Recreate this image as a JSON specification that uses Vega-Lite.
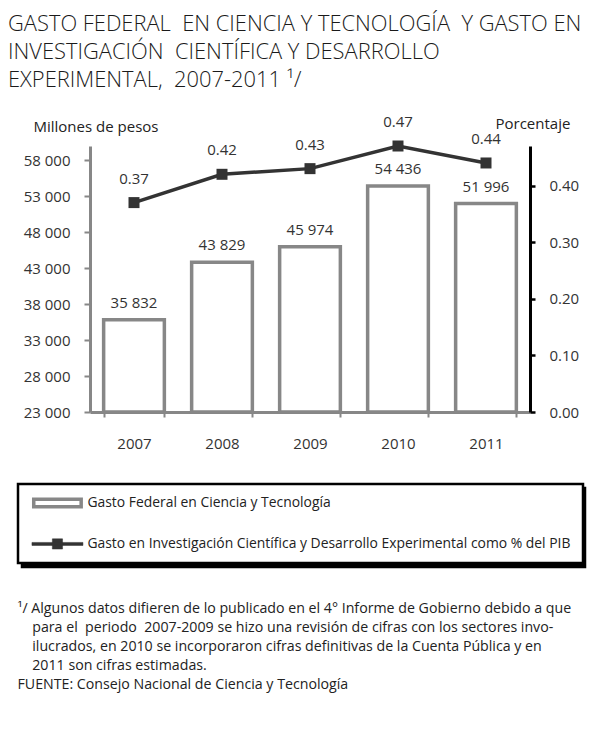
{
  "$schema": "https://vega.github.io/schema/vega-lite/v6.json",
  "width": 440,
  "height": 266,
  "autosize": {"type": "none"},
  "padding": {"left": 90, "top": 146, "right": 83, "bottom": 341},
  "config": {
    "locale": {"number": {"decimal": ".", "thousands": " ", "grouping": [3], "currency": ["$", ""]}},
    "view": {"stroke": null},
    "font": "Open Sans"
  },
  "title": {
    "text": ["GASTO FEDERAL\u00a0 EN CIENCIA Y TECNOLOGÍA\u00a0 Y GASTO EN", "INVESTIGACIÓN\u00a0 CIENTÍFICA Y DESARROLLO", "EXPERIMENTAL,\u00a0 2007-2011 ¹/"],
    "anchor": "start", "frame": "group", "dx": -82, "offset": 23,
    "font": "Open Sans", "fontSize": 21.9, "fontWeight": 300, "color": "#1a1a1a", "lineHeight": 28
  },
  "data": {"values": [
    {"anio": "2007", "gasto": 35832, "pct": 0.37},
    {"anio": "2008", "gasto": 43829, "pct": 0.42},
    {"anio": "2009", "gasto": 45974, "pct": 0.43},
    {"anio": "2010", "gasto": 54436, "pct": 0.47},
    {"anio": "2011", "gasto": 51996, "pct": 0.44}
  ]},
  "encoding": {
    "x": {
      "field": "anio", "type": "ordinal",
      "scale": {"paddingInner": 0.31, "paddingOuter": 0.155},
      "axis": {
        "title": ["¹/ Algunos datos difieren de lo publicado en el 4° Informe de Gobierno debido a que", "\u200b\u00a0\u00a0\u00a0\u00a0para el\u00a0 periodo\u00a0 2007-2009 se hizo una revisión de cifras con los sectores invo-", "\u200b\u00a0\u00a0\u00a0\u00a0ilucrados, en 2010 se incorporaron cifras definitivas de la Cuenta Pública y en", "\u200b\u00a0\u00a0\u00a0\u00a02011 son cifras estimadas.", "FUENTE: Consejo Nacional de Ciencia y Tecnología"],
        "titleX": -73, "titleY": 189, "titleAlign": "left", "titleBaseline": "top", "titleAngle": 0,
        "titleFont": "Open Sans", "titleFontSize": 14.2, "titleFontWeight": "normal", "titleColor": "#222", "titleLineHeight": 19,
        "labelAngle": 0, "labelFont": "Open Sans", "labelFontSize": 15, "labelColor": "#333", "labelPadding": 19,
        "domainColor": "#878787", "domainWidth": 3, "tickColor": "#878787", "tickWidth": 2, "tickSize": 5,
        "tickBand": "extent", "grid": false
      }
    }
  },
  "layer": [
    {
      "layer": [
        {
          "mark": {"type": "bar", "fill": "white", "strokeWidth": 3.5},
          "encoding": {
            "y": {
              "field": "gasto", "type": "quantitative",
              "scale": {"domain": [23000, 60000], "nice": false, "zero": false},
              "axis": {
                "title": "Millones de pesos", "titleAngle": 0, "titleX": -57, "titleY": -15, "titleAlign": "left", "titleBaseline": "alphabetic",
                "titleFont": "Open Sans", "titleFontSize": 15, "titleFontWeight": "normal", "titleColor": "#222",
                "values": [23000, 28000, 33000, 38000, 43000, 48000, 53000, 58000], "tickCount": 20, "format": ",.0f", "labelOverlap": false,
                "labelFont": "Open Sans", "labelFontSize": 15, "labelColor": "#333", "labelPadding": 14,
                "domainColor": "#878787", "domainWidth": 3, "tickColor": "#878787", "tickWidth": 2, "tickSize": 6, "grid": false
              }
            },
            "y2": {"datum": 23000},
            "stroke": {
              "datum": "Gasto Federal en Ciencia y Tecnología",
              "scale": {"domain": ["Gasto Federal en Ciencia y Tecnología", "Gasto en Investigación Científica y Desarrollo Experimental como % del PIB"], "range": ["#878787", "#333333"]},
              "legend": {
                "title": null, "orient": "none", "legendX": -72, "legendY": 338, "direction": "vertical",
                "symbolSize": 2601, "symbolOffset": 20.5, "labelFont": "Open Sans", "labelFontSize": 13.9, "labelColor": "#222", "labelOffset": 23, "labelLimit": 0,
                "padding": 12, "rowPadding": 22, "strokeColor": "black", "fillColor": "white", "zindex": 2,
                "encoding": {
                  "legend": {"strokeWidth": {"value": 2.5}},
                  "symbols": {
                    "shape": {"value": {"expr": "datum.index === 0 ? 'M-0.93,-0.147H0.93V0.147H-0.93Z' : 'M-1,-0.06H1V0.06H-1ZM-0.2,-0.2H0.2V0.2H-0.2Z'"}},
                    "fill": {"value": {"expr": "datum.index === 0 ? 'white' : '#333333'"}},
                    "stroke": {"value": {"expr": "datum.index === 0 ? '#878787' : '#333333'"}},
                    "strokeWidth": {"value": {"expr": "datum.index === 0 ? 3.5 : 0.5"}}
                  }
                }
              }
            },
            "opacity": {
              "datum": "A",
              "type": "nominal",
              "scale": {"domain": ["A", "B"], "range": [1, 1]},
              "legend": {
                "title": null, "orient": "none", "legendX": -68, "legendY": 342, "direction": "vertical",
                "labelExpr": "''",
                "symbolSize": 2601, "symbolOffset": 20.5, "labelFont": "Open Sans", "labelFontSize": 13.9, "labelColor": "black", "labelOffset": 504, "labelLimit": 0,
                "padding": 12, "rowPadding": 22, "strokeColor": "black", "fillColor": "black", "zindex": 1,
                "encoding": {
                  "legend": {"strokeWidth": {"value": 2.5}},
                  "symbols": {
                    "shape": {"value": {"expr": "datum.index === 0 ? 'M-0.93,-0.147H0.93V0.147H-0.93Z' : 'M-1,-0.06H1V0.06H-1ZM-0.2,-0.2H0.2V0.2H-0.2Z'"}},
                    "fill": {"value": "black"},
                    "stroke": {"value": "black"},
                    "strokeWidth": {"value": {"expr": "datum.index === 0 ? 3.5 : 0.5"}}
                  }
                }
              }
            }
          }
        },
        {
          "mark": {"type": "text", "dy": -12, "baseline": "alphabetic", "font": "Open Sans", "fontSize": 15, "color": "#333"},
          "encoding": {
            "y": {"field": "gasto", "type": "quantitative"},
            "text": {"field": "gasto", "type": "quantitative", "format": ","}
          }
        }
      ]
    },
    {
      "layer": [
        {
          "mark": {"type": "line", "strokeWidth": 3.5},
          "encoding": {
            "y": {
              "field": "pct", "type": "quantitative",
              "scale": {"domain": [0, 0.47], "nice": false},
              "axis": {
                "orient": "right",
                "title": "Porcentaje", "titleAngle": 0, "titleX": -35, "titleY": -18, "titleAlign": "left", "titleBaseline": "alphabetic",
                "titleFont": "Open Sans", "titleFontSize": 15, "titleFontWeight": "normal", "titleColor": "#222",
                "values": [0, 0.1, 0.2, 0.3, 0.4], "tickCount": 20, "format": ".2f", "labelOverlap": false,
                "labelFont": "Open Sans", "labelFontSize": 15, "labelColor": "#333", "labelPadding": 14,
                "domainColor": "black", "domainWidth": 3, "tickColor": "black", "tickWidth": 2.5, "tickSize": 5, "grid": false
              }
            },
            "stroke": {"datum": "Gasto en Investigación Científica y Desarrollo Experimental como % del PIB"}
          }
        },
        {
          "mark": {"type": "point", "shape": "square", "filled": true, "size": 121, "color": "#333333", "opacity": 1},
          "encoding": {"y": {"field": "pct", "type": "quantitative"}}
        },
        {
          "mark": {"type": "text", "dy": -19, "baseline": "alphabetic", "font": "Open Sans", "fontSize": 15, "color": "#333"},
          "encoding": {
            "y": {"field": "pct", "type": "quantitative"},
            "text": {"field": "pct", "type": "quantitative", "format": ".2f"}
          }
        }
      ]
    }
  ],
  "resolve": {"scale": {"y": "independent"}}
}
